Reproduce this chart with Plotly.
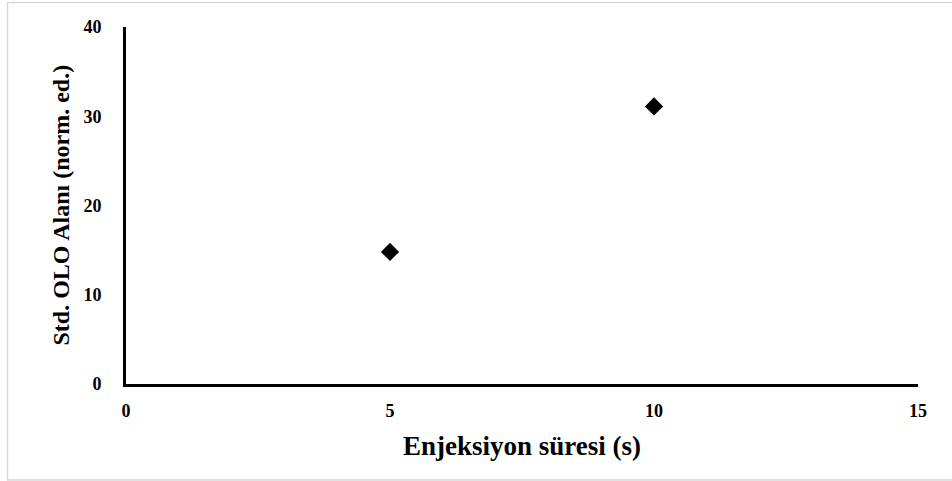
import plotly.graph_objects as go

# Injection time (s) vs. standardized OLO area (normalized units)
injection_time = [5, 10]
olo_area = [14.8, 31.1]

x_ticks = [0, 5, 10, 15]
y_ticks = [0, 10, 20, 30, 40]

W, H = 952, 481
L, R, T, B = 126, 34, 27, 97
pw, ph = W - L - R, H - T - B

FONT = "Liberation Serif, Times New Roman, serif"
TICK_FONT = dict(family=FONT, size=18, color="black", weight="bold")

fig = go.Figure()
fig.add_trace(go.Scatter(
    x=injection_time, y=olo_area, mode="markers",
    marker=dict(symbol="diamond", size=14, color="black"),
    showlegend=False, hoverinfo="x+y",
))

axis_common = dict(
    showgrid=False, zeroline=False, showline=True, linecolor="black",
    linewidth=3, ticks="", tickfont=TICK_FONT,
)

fig.update_xaxes(range=[0, 15], tickvals=x_ticks, ticklabelstandoff=8, **axis_common)
fig.update_yaxes(range=[0, 40], tickvals=y_ticks, ticklabelstandoff=18, **axis_common)


def px_x(px):
    return (px - L) / pw


def px_y(py):
    return (H - B - py) / ph


fig.update_layout(
    width=W, height=H,
    margin=dict(l=L, r=R, t=T, b=B),
    paper_bgcolor="white", plot_bgcolor="white",
    font=dict(family=FONT, color="black"),
    annotations=[
        dict(text="<b>Enjeksiyon süresi (s)</b>", xref="paper", yref="paper",
             x=0.5, y=px_y(446), xanchor="center", yanchor="middle",
             showarrow=False, font=dict(family=FONT, size=27, color="black")),
        dict(text="<b>Std. OLO Alanı (norm. ed.)</b>", xref="paper", yref="paper",
             x=px_x(60), y=0.5, xanchor="center", yanchor="middle", textangle=-90,
             showarrow=False, font=dict(family=FONT, size=24, color="black")),
    ],
    shapes=[
        dict(type="rect", xref="paper", yref="paper",
             x0=px_x(7.5), x1=px_x(956), y0=px_y(480), y1=px_y(2.5),
             line=dict(color="#d9d9d9", width=1.5), layer="below"),
    ],
)

fig.write_html("out.html")
